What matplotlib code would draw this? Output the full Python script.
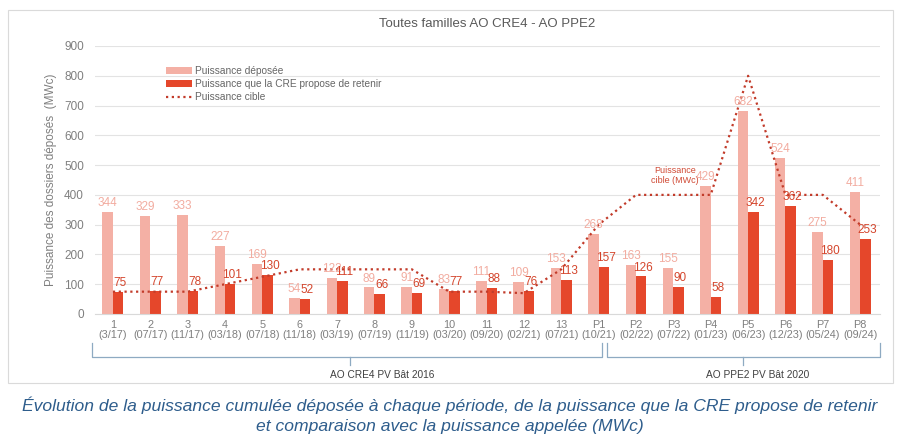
import numpy as np
import matplotlib
matplotlib.use("Agg")
import matplotlib.pyplot as plt
from matplotlib.patches import Rectangle
from matplotlib.transforms import blended_transform_factory

plt.rcParams['font.family'] = ['Liberation Sans', 'DejaVu Sans']

# data
periodes = ["1", "2", "3", "4", "5", "6", "7", "8", "9", "10", "11", "12", "13",
            "P1", "P2", "P3", "P4", "P5", "P6", "P7", "P8"]
dates = ["(3/17)", "(07/17)", "(11/17)", "(03/18)", "(07/18)", "(11/18)", "(03/19)",
         "(07/19)", "(11/19)", "(03/20)", "(09/20)", "(02/21)", "(07/21)", "(10/21)",
         "(02/22)", "(07/22)", "(01/23)", "(06/23)", "(12/23)", "(05/24)", "(09/24)"]
deposee = [344, 329, 333, 227, 169, 54, 122, 89, 91, 83, 111, 109, 153,
           268, 163, 155, 429, 682, 524, 275, 411]
retenue = [75, 77, 78, 101, 130, 52, 111, 66, 69, 77, 88, 76, 113,
           157, 126, 90, 58, 342, 362, 180, 253]
cible = [75, 75, 75, 100, 125, 150, 150, 150, 150, 75, 75, 70, 150,
         300, 400, 400, 400, 800, 400, 400, 300]

c_light = "#F4B0A5"
c_dark = "#E5472B"
c_line = "#C23B2A"
c_grey = "#7F7F7F"
c_blue = "#8EAAC2"

fig = plt.figure(figsize=(9, 4.43), dpi=100)
fig.patches.append(Rectangle((8 / 900, 1 - 383 / 443), 885 / 900, 373 / 443,
                             transform=fig.transFigure, fill=False,
                             edgecolor="#DADADA", linewidth=0.8))
ax = fig.add_axes([95 / 900, 1 - 314 / 443, 785 / 900, 268 / 443])

x = np.arange(len(periodes))
w = 0.28
b1 = ax.bar(x - w / 2, deposee, w, color=c_light, label="Puissance déposée", zorder=2)
b2 = ax.bar(x + w / 2, retenue, w, color=c_dark,
            label="Puissance que la CRE propose de retenir", zorder=2)
l1, = ax.plot(x, cible, linestyle=(0, (1, 1.6)), color=c_line, linewidth=1.6,
              label="Puissance cible", zorder=3)

for i in range(len(x)):
    ax.text(x[i] - w / 2, deposee[i] + 10, str(deposee[i]), ha="center",
            va="bottom", fontsize=8.5, color="#F2ACA0", zorder=4)
    ax.text(x[i] + w / 2 + 0.05, retenue[i] + 10, str(retenue[i]), ha="center",
            va="bottom", fontsize=8.5, color="#D4452C", zorder=4)

ax.text(15.05, 466, "Puissance\ncible (MWc)", ha="center", va="center",
        fontsize=6.5, color="#D04A35", linespacing=1.1)

ax.set_xlim(-0.48, 20.53)
ax.set_ylim(0, 900)
ax.set_yticks(np.arange(0, 901, 100))
ax.set_xticks(x)
ax.set_xticklabels([p + "\n" + d for p, d in zip(periodes, dates)],
                   fontsize=7.8, color=c_grey, linespacing=1.05)
ax.tick_params(axis="y", labelsize=8.5, labelcolor=c_grey, length=0, pad=8)
ax.tick_params(axis="x", length=0, pad=4)
ax.grid(axis="y", color="#E3E3E3", linewidth=0.8, zorder=0)
for s in ax.spines.values():
    s.set_visible(False)
ax.spines["bottom"].set_visible(True)
ax.spines["bottom"].set_color("#D9D9D9")

ax.set_ylabel("Puissance des dossiers déposés  (MWc)", fontsize=8.5,
              color=c_grey, labelpad=5)
ax.set_title("Toutes familles AO CRE4 - AO PPE2", fontsize=9.5, color="#595959",
             pad=14)

ax.legend([b1, b2, l1], [b1.get_label(), b2.get_label(), l1.get_label()],
          loc="upper left", bbox_to_anchor=(0.085, 0.94), frameon=False,
          fontsize=7.3, labelcolor="#666666", handlelength=2.6, handleheight=0.6,
          handletextpad=0.3, borderaxespad=0, labelspacing=0.3)

# brackets under the x axis
tr = blended_transform_factory(ax.transData, ax.transAxes)
brackets = [(-0.56, 13.09, 6.35, 7.2, "AO CRE4 PV Bât 2016"),
            (13.23, 20.53, 16.87, 17.25, "AO PPE2 PV Bât 2020")]
y_top, y_mid, y_bot, y_txt = -0.11, -0.16, -0.19, -0.208
for x0, x1, xc, xt, lab in brackets:
    ax.plot([x0, x0, x1, x1], [y_top, y_mid, y_mid, y_top], color=c_blue,
            linewidth=0.9, transform=tr, clip_on=False)
    ax.plot([xc, xc], [y_mid, y_bot], color=c_blue, linewidth=0.9,
            transform=tr, clip_on=False)
    ax.text(xt, y_txt, lab, ha="center", va="top", fontsize=7.3, color="#404040",
            transform=tr)

fig.text(0.5, 1 - 405 / 443,
         "Évolution de la puissance cumulée déposée à chaque période, de la puissance que la CRE propose de retenir",
         ha="center", va="center", fontsize=12.6, style="italic", color="#2E5D8C")
fig.text(0.5, 1 - 426 / 443, "et comparaison avec la puissance appelée (MWc)",
         ha="center", va="center", fontsize=12.6, style="italic", color="#2E5D8C")

fig.savefig("out.png", dpi=100)
